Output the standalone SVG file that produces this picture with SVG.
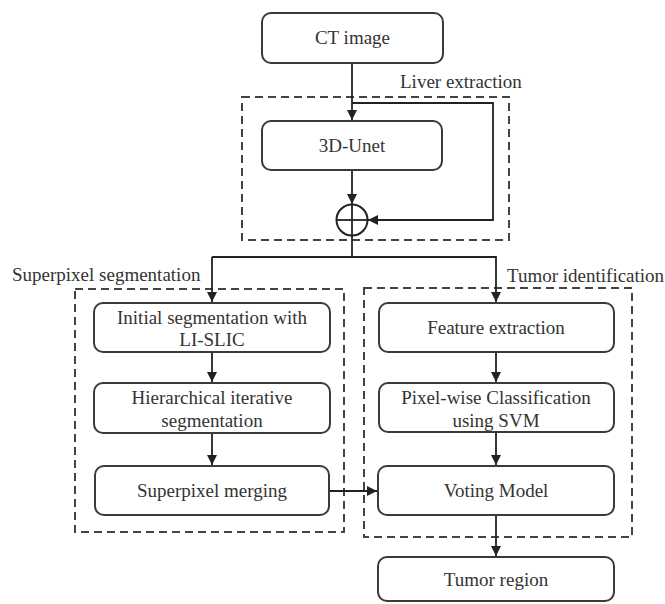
<svg xmlns="http://www.w3.org/2000/svg" width="665" height="604" viewBox="0 0 665 604">
<defs>
<style>
.box{fill:#fff;stroke:#3a3a3a;stroke-width:2}
.grp{fill:none;stroke:#444;stroke-width:2;stroke-dasharray:8 5}
.t{font-family:"Liberation Serif","Times New Roman",serif;font-size:19px;fill:#333;text-anchor:middle}
.lbl{font-family:"Liberation Serif","Times New Roman",serif;font-size:19px;fill:#333}
.c{fill:none;stroke:#222;stroke-width:1.8}
</style>
<marker id="ah" markerUnits="userSpaceOnUse" markerWidth="10" markerHeight="10" refX="10" refY="5" orient="auto">
<path d="M0,0 L10,5 L0,10 Z" fill="#222"/>
</marker>
</defs>
<rect width="665" height="604" fill="#fff"/>
<g id="groups">
<rect class="grp" x="242" y="97" width="267" height="143"/>
<rect class="grp" x="75" y="289" width="269" height="243"/>
<rect class="grp" x="364" y="288" width="268" height="249"/>
<text class="lbl" x="400" y="88">Liver extraction</text>
<text class="lbl" x="12" y="281">Superpixel segmentation</text>
<text class="lbl" x="507" y="282">Tumor identification</text>
</g>
<g id="connectors">
<line class="c" x1="352" y1="63" x2="352" y2="120" marker-end="url(#ah)"/>
<polyline class="c" points="352,103 493,103 493,220 368,220" marker-end="url(#ah)"/>
<line class="c" x1="352" y1="170" x2="352" y2="204" marker-end="url(#ah)"/>
<polyline class="c" points="352,236 352,257"/>
<polyline class="c" points="212,257 496,257 496,302" marker-end="url(#ah)"/>
<line class="c" x1="212" y1="257" x2="212" y2="302" marker-end="url(#ah)"/>
<line class="c" x1="212" y1="352" x2="212" y2="382" marker-end="url(#ah)"/>
<line class="c" x1="212" y1="433" x2="212" y2="465" marker-end="url(#ah)"/>
<line class="c" x1="496" y1="352" x2="496" y2="382" marker-end="url(#ah)"/>
<line class="c" x1="496" y1="432" x2="496" y2="465" marker-end="url(#ah)"/>
<line class="c" x1="329" y1="491" x2="377" y2="491" marker-end="url(#ah)"/>
<line class="c" x1="496" y1="515" x2="496" y2="556" marker-end="url(#ah)"/>
</g>
<g id="ct-image">
<rect class="box" x="262" y="13" width="181" height="50" rx="9"/>
<text class="t" x="352.5" y="44">CT image</text>
</g>
<g id="unet">
<rect class="box" x="262" y="121" width="180" height="49" rx="9"/>
<text class="t" x="352" y="152">3D-Unet</text>
</g>
<g id="sum">
<circle cx="352" cy="220" r="15.5" fill="#fff" stroke="#222" stroke-width="2"/>
<line class="c" x1="336.5" y1="220" x2="367.5" y2="220"/>
<line class="c" x1="352" y1="204.5" x2="352" y2="235.5"/>
</g>
<g id="initial-seg">
<rect class="box" x="94" y="303" width="236" height="49" rx="9"/>
<text class="t" x="212" y="324">Initial segmentation with</text>
<text class="t" x="212" y="346">LI-SLIC</text>
</g>
<g id="hierarchical">
<rect class="box" x="94" y="383" width="236" height="50" rx="9"/>
<text class="t" x="212" y="404">Hierarchical iterative</text>
<text class="t" x="212" y="427">segmentation</text>
</g>
<g id="merging">
<rect class="box" x="95" y="466" width="234" height="49" rx="9"/>
<text class="t" x="212" y="497">Superpixel merging</text>
</g>
<g id="feature">
<rect class="box" x="379" y="303" width="235" height="49" rx="9"/>
<text class="t" x="496" y="334">Feature extraction</text>
</g>
<g id="pixelwise">
<rect class="box" x="379" y="383" width="235" height="49" rx="9"/>
<text class="t" x="496" y="404">Pixel-wise Classification</text>
<text class="t" x="496" y="427">using SVM</text>
</g>
<g id="voting">
<rect class="box" x="378" y="466" width="236" height="49" rx="9"/>
<text class="t" x="496" y="497">Voting Model</text>
</g>
<g id="tumor-region">
<rect class="box" x="378" y="557" width="236" height="44" rx="9"/>
<text class="t" x="496" y="586">Tumor region</text>
</g>
</svg>
